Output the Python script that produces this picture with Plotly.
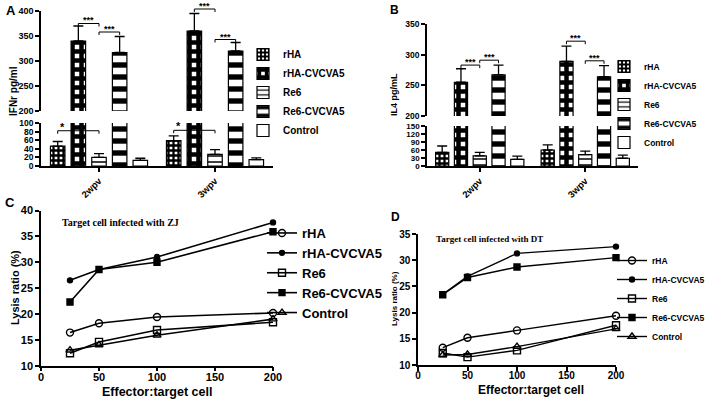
import plotly.graph_objects as go

W, H = 708, 400
FONT = "Liberation Sans, Arial, sans-serif"
SERIF = "Liberation Serif, Times New Roman, serif"

# ---------------- data ----------------
groups = ["2wpv", "3wpv"]
series = ["rHA", "rHA-CVCVA5", "Re6", "Re6-CVCVA5", "Control"]

# Panel A: IFN-gamma (pg/ml), mean and SD
ifn_rha = [46, 59]
ifn_rha_cvc = [340, 360]
ifn_re6 = [20, 27]
ifn_re6_cvc = [317, 320]
ifn_control = [13, 15]
ifn_rha_sd = [11, 11]
ifn_rha_cvc_sd = [30, 35]
ifn_re6_sd = [9, 11]
ifn_re6_cvc_sd = [32, 17]
ifn_control_sd = [5, 4]

# Panel B: IL4 (pg/mL)
il4_rha = [51, 60]
il4_rha_cvc = [255, 289]
il4_re6 = [38, 43]
il4_re6_cvc = [267, 264]
il4_control = [25, 29]
il4_rha_sd = [24, 19]
il4_rha_cvc_sd = [22, 25]
il4_re6_sd = [13, 13]
il4_re6_cvc_sd = [16, 18]
il4_control_sd = [12, 12]

# Panels C/D: lysis ratio (%)
et_ratio = [25, 50, 100, 200]
zj_rha = [16.4, 18.2, 19.4, 20.2]
zj_rha_cvc = [26.5, 28.6, 31.0, 37.7]
zj_re6 = [12.4, 14.6, 16.9, 18.4]
zj_re6_cvc = [22.3, 28.6, 30.0, 35.9]
zj_control = [13.0, 14.0, 15.9, 19.0]
dt_rha = [13.3, 15.2, 16.6, 19.4]
dt_rha_cvc = [23.5, 26.9, 31.3, 32.6]
dt_re6 = [12.3, 11.5, 12.8, 17.6]
dt_re6_cvc = [23.4, 26.7, 28.7, 30.5]
dt_control = [11.9, 12.0, 13.5, 16.9]

# significance brackets: (group, from_series, to_series, height, label, part)
sig_a = [(0, 1, 2, 375, "***", "upper"), (0, 2, 3, 358, "***", "upper"),
         (1, 1, 2, 404, "***", "upper"), (1, 2, 3, 343, "***", "upper"),
         (0, 0, 2, 82, "*", "lower"), (1, 0, 2, 83, "*", "lower")]
sig_b = [(0, 1, 2, 283, "***", "upper"), (0, 2, 3, 291, "***", "upper"),
         (1, 1, 2, 322, "***", "upper"), (1, 2, 3, 290, "***", "upper")]

ifn_means = [ifn_rha, ifn_rha_cvc, ifn_re6, ifn_re6_cvc, ifn_control]
ifn_sds = [ifn_rha_sd, ifn_rha_cvc_sd, ifn_re6_sd, ifn_re6_cvc_sd, ifn_control_sd]
il4_means = [il4_rha, il4_rha_cvc, il4_re6, il4_re6_cvc, il4_control]
il4_sds = [il4_rha_sd, il4_rha_cvc_sd, il4_re6_sd, il4_re6_cvc_sd, il4_control_sd]
zj_lines = [zj_rha, zj_rha_cvc, zj_re6, zj_re6_cvc, zj_control]
dt_lines = [dt_rha, dt_rha_cvc, dt_re6, dt_re6_cvc, dt_control]

# ---------------- styles ----------------
PITCH, BW = 0.178, 0.125
patterns = [
    dict(shape="+", size=5, solidity=0.7),
    dict(shape="+", size=9, solidity=0.75),
    dict(shape="-", size=6, solidity=0.25),
    dict(shape="-", size=12, solidity=0.45),
    dict(shape="", size=8, solidity=0.2),
]
line_markers = [
    dict(symbol="circle-open", size=7),
    dict(symbol="circle", size=5),
    dict(symbol="square-open", size=7),
    dict(symbol="square", size=6),
    dict(symbol="triangle-up-open", size=7),
]
# where along a bracket its label sits (fraction from left end)
label_frac = {"***": 0.5, "*": 0.12}


def dx(a, b):
    return [a / W, b / W]


def dy(top, bottom):
    return [1 - bottom / H, 1 - top / H]


def bar_x(i):
    return [g + (i - 2) * PITCH for g in range(len(groups))]


fig = go.Figure()

bar_panels = [
    (ifn_means, ifn_sds, ("x", "y"), ("x2", "y2"), "legend"),
    (il4_means, il4_sds, ("x3", "y3"), ("x4", "y4"), "legend2"),
]
for means, sds, low, up, leg in bar_panels:
    for i, name in enumerate(series):
        pat = dict(fgcolor="black", bgcolor="white", fgopacity=1, **patterns[i])
        for (xa, ya), show in ((low, False), (up, True)):
            fig.add_trace(go.Bar(
                x=bar_x(i), y=means[i], width=BW, name=name,
                xaxis=xa, yaxis=ya, legend=leg, showlegend=show,
                marker=dict(color="white", line=dict(color="black", width=1.2), pattern=pat),
                error_y=dict(type="data", array=sds[i], arrayminus=[0] * len(groups),
                             symmetric=False, color="black", thickness=1.3, width=5),
            ))

for lines, xa, ya, leg, lw in ((zj_lines, "x5", "y5", "legend3", 1.6), (dt_lines, "x6", "y6", "legend4", 1.4)):
    for i, name in enumerate(series):
        fig.add_trace(go.Scatter(
            x=et_ratio, y=lines[i], name=name, mode="lines+markers",
            xaxis=xa, yaxis=ya, legend=leg, cliponaxis=False,
            line=dict(color="black", width=lw),
            marker=dict(color="black", line=dict(color="black", width=1.4), **line_markers[i]),
        ))


def tf(size):
    return dict(family=FONT, size=size, color="black", weight="bold")


ax = dict(showline=True, linecolor="black", linewidth=1.5, ticks="outside", ticklen=4,
          tickwidth=1.5, tickcolor="black", showgrid=False, zeroline=False, fixedrange=True)

cat_x = dict(ax, range=[-0.5, 1.5], tickvals=list(range(len(groups))), ticktext=groups,
             tickangle=-45, tickfont=tf(9.5))

leg_common = dict(xanchor="left", yanchor="top", bgcolor="rgba(0,0,0,0)", tracegroupgap=0)

fig.update_layout(
    width=W, height=H, autosize=False, margin=dict(l=0, r=0, t=0, b=0, pad=0, autoexpand=False),
    paper_bgcolor="white", plot_bgcolor="rgba(0,0,0,0)", barmode="overlay",
    font=dict(family=FONT, color="black"),
    xaxis=dict(cat_x, domain=dx(41, 273), anchor="y"),
    yaxis=dict(ax, domain=dy(123, 166), range=[0, 100], dtick=20, anchor="x", tickfont=tf(8.5)),
    xaxis2=dict(cat_x, domain=dx(41, 273), anchor="y2", visible=False),
    yaxis2=dict(ax, domain=dy(11, 111), range=[200, 400], dtick=50, anchor="x2", tickfont=tf(9)),
    xaxis3=dict(cat_x, domain=dx(427, 638), anchor="y3"),
    yaxis3=dict(ax, domain=dy(126, 166), range=[0, 150], dtick=30, anchor="x3", tickfont=tf(8)),
    xaxis4=dict(cat_x, domain=dx(427, 638), anchor="y4", visible=False),
    yaxis4=dict(ax, domain=dy(24, 116), range=[200, 350], dtick=50, anchor="x4", tickfont=tf(8.5)),
    xaxis5=dict(ax, domain=dx(41, 273), range=[0, 200], dtick=50, anchor="y5", tickfont=tf(11),
                ticklabelstandoff=-4),
    yaxis5=dict(ax, domain=dy(210.5, 365.7), range=[10, 40], dtick=5, anchor="x5", tickfont=tf(11)),
    xaxis6=dict(ax, domain=dx(418, 616), range=[0, 200], dtick=50, anchor="y6", tickfont=tf(10),
                ticklabelstandoff=-4),
    yaxis6=dict(ax, domain=dy(234, 365), range=[10, 35], dtick=5, anchor="x6", tickfont=tf(10)),
    legend=dict(leg_common, x=243 / W, y=1 - 40 / H, font=tf(10)),
    legend2=dict(leg_common, x=604 / W, y=1 - 52 / H, font=tf(8.5)),
    legend3=dict(leg_common, x=262 / W, y=1 - 218 / H, font=tf(13)),
    legend4=dict(leg_common, x=612 / W, y=1 - 246 / H, font=tf(8.5)),
)

L = fig.layout


def to_paper(yaxis, v):
    d0, d1 = yaxis.domain
    r0, r1 = yaxis.range
    return d0 + (v - r0) / (r1 - r0) * (d1 - d0)


shapes, annos = [], []
for sigs, xref, upper_ax, lower_ax in ((sig_a, "x", L.yaxis2, L.yaxis), (sig_b, "x3", L.yaxis4, L.yaxis3)):
    for g, a, b, v, label, part in sigs:
        yaxis = upper_ax if part == "upper" else lower_ax
        yv = to_paper(yaxis, v)
        tick = 3 / H
        x0, x1 = bar_x(a)[g], bar_x(b)[g]
        shapes.append(dict(type="path", xref=xref, yref="paper",
                           path=f"M{x0},{yv - tick} L{x0},{yv} L{x1},{yv} L{x1},{yv - tick}",
                           line=dict(color="black", width=1)))
        f = label_frac[label]
        annos.append(dict(x=x0 + f * (x1 - x0), y=yv - 4 / H, xref=xref, yref="paper",
                          text=label, showarrow=False, xanchor="center", yanchor="bottom",
                          font=tf(9 if label == "***" else 11)))

for txt, x, y, size in (("A", 11, 11, 13), ("B", 394, 10, 12), ("C", 10, 203, 13), ("D", 396, 217, 12)):
    annos.append(dict(x=x / W, y=1 - y / H, xref="paper", yref="paper", text=txt, showarrow=False,
                      xanchor="center", yanchor="middle", font=tf(size)))

for txt, x, y, size in (("IFNr pg/ml", 13, 91, 10), ("IL4 pg/mL", 394, 95, 9),
                        ("Lysis ratio (%)", 15, 288, 11), ("Lysis ratio (%)", 394, 299, 8)):
    annos.append(dict(x=x / W, y=1 - y / H, xref="paper", yref="paper", text=txt, showarrow=False,
                      textangle=-90, xanchor="center", yanchor="middle", font=tf(size)))

for txt, x, y, size in (("Effector:target cell", 157, 392, 12.5), ("Effector:target cell", 531, 390, 12)):
    annos.append(dict(x=x / W, y=1 - y / H, xref="paper", yref="paper", text=txt, showarrow=False,
                      xanchor="center", yanchor="middle", font=tf(size)))

for txt, x, y, size in (("Target cell infected with ZJ", 60, 222, 10), ("Target cell infected with DT", 434, 239, 9)):
    annos.append(dict(x=x / W, y=1 - y / H, xref="paper", yref="paper", text=txt, showarrow=False,
                      xanchor="left", yanchor="middle",
                      font=dict(family=SERIF, size=size, color="black", weight="bold")))

fig.update_layout(shapes=shapes, annotations=annos)
fig.write_html("out.html", config={"displayModeBar": False},
               post_script="document.body.style.margin='0px';")
